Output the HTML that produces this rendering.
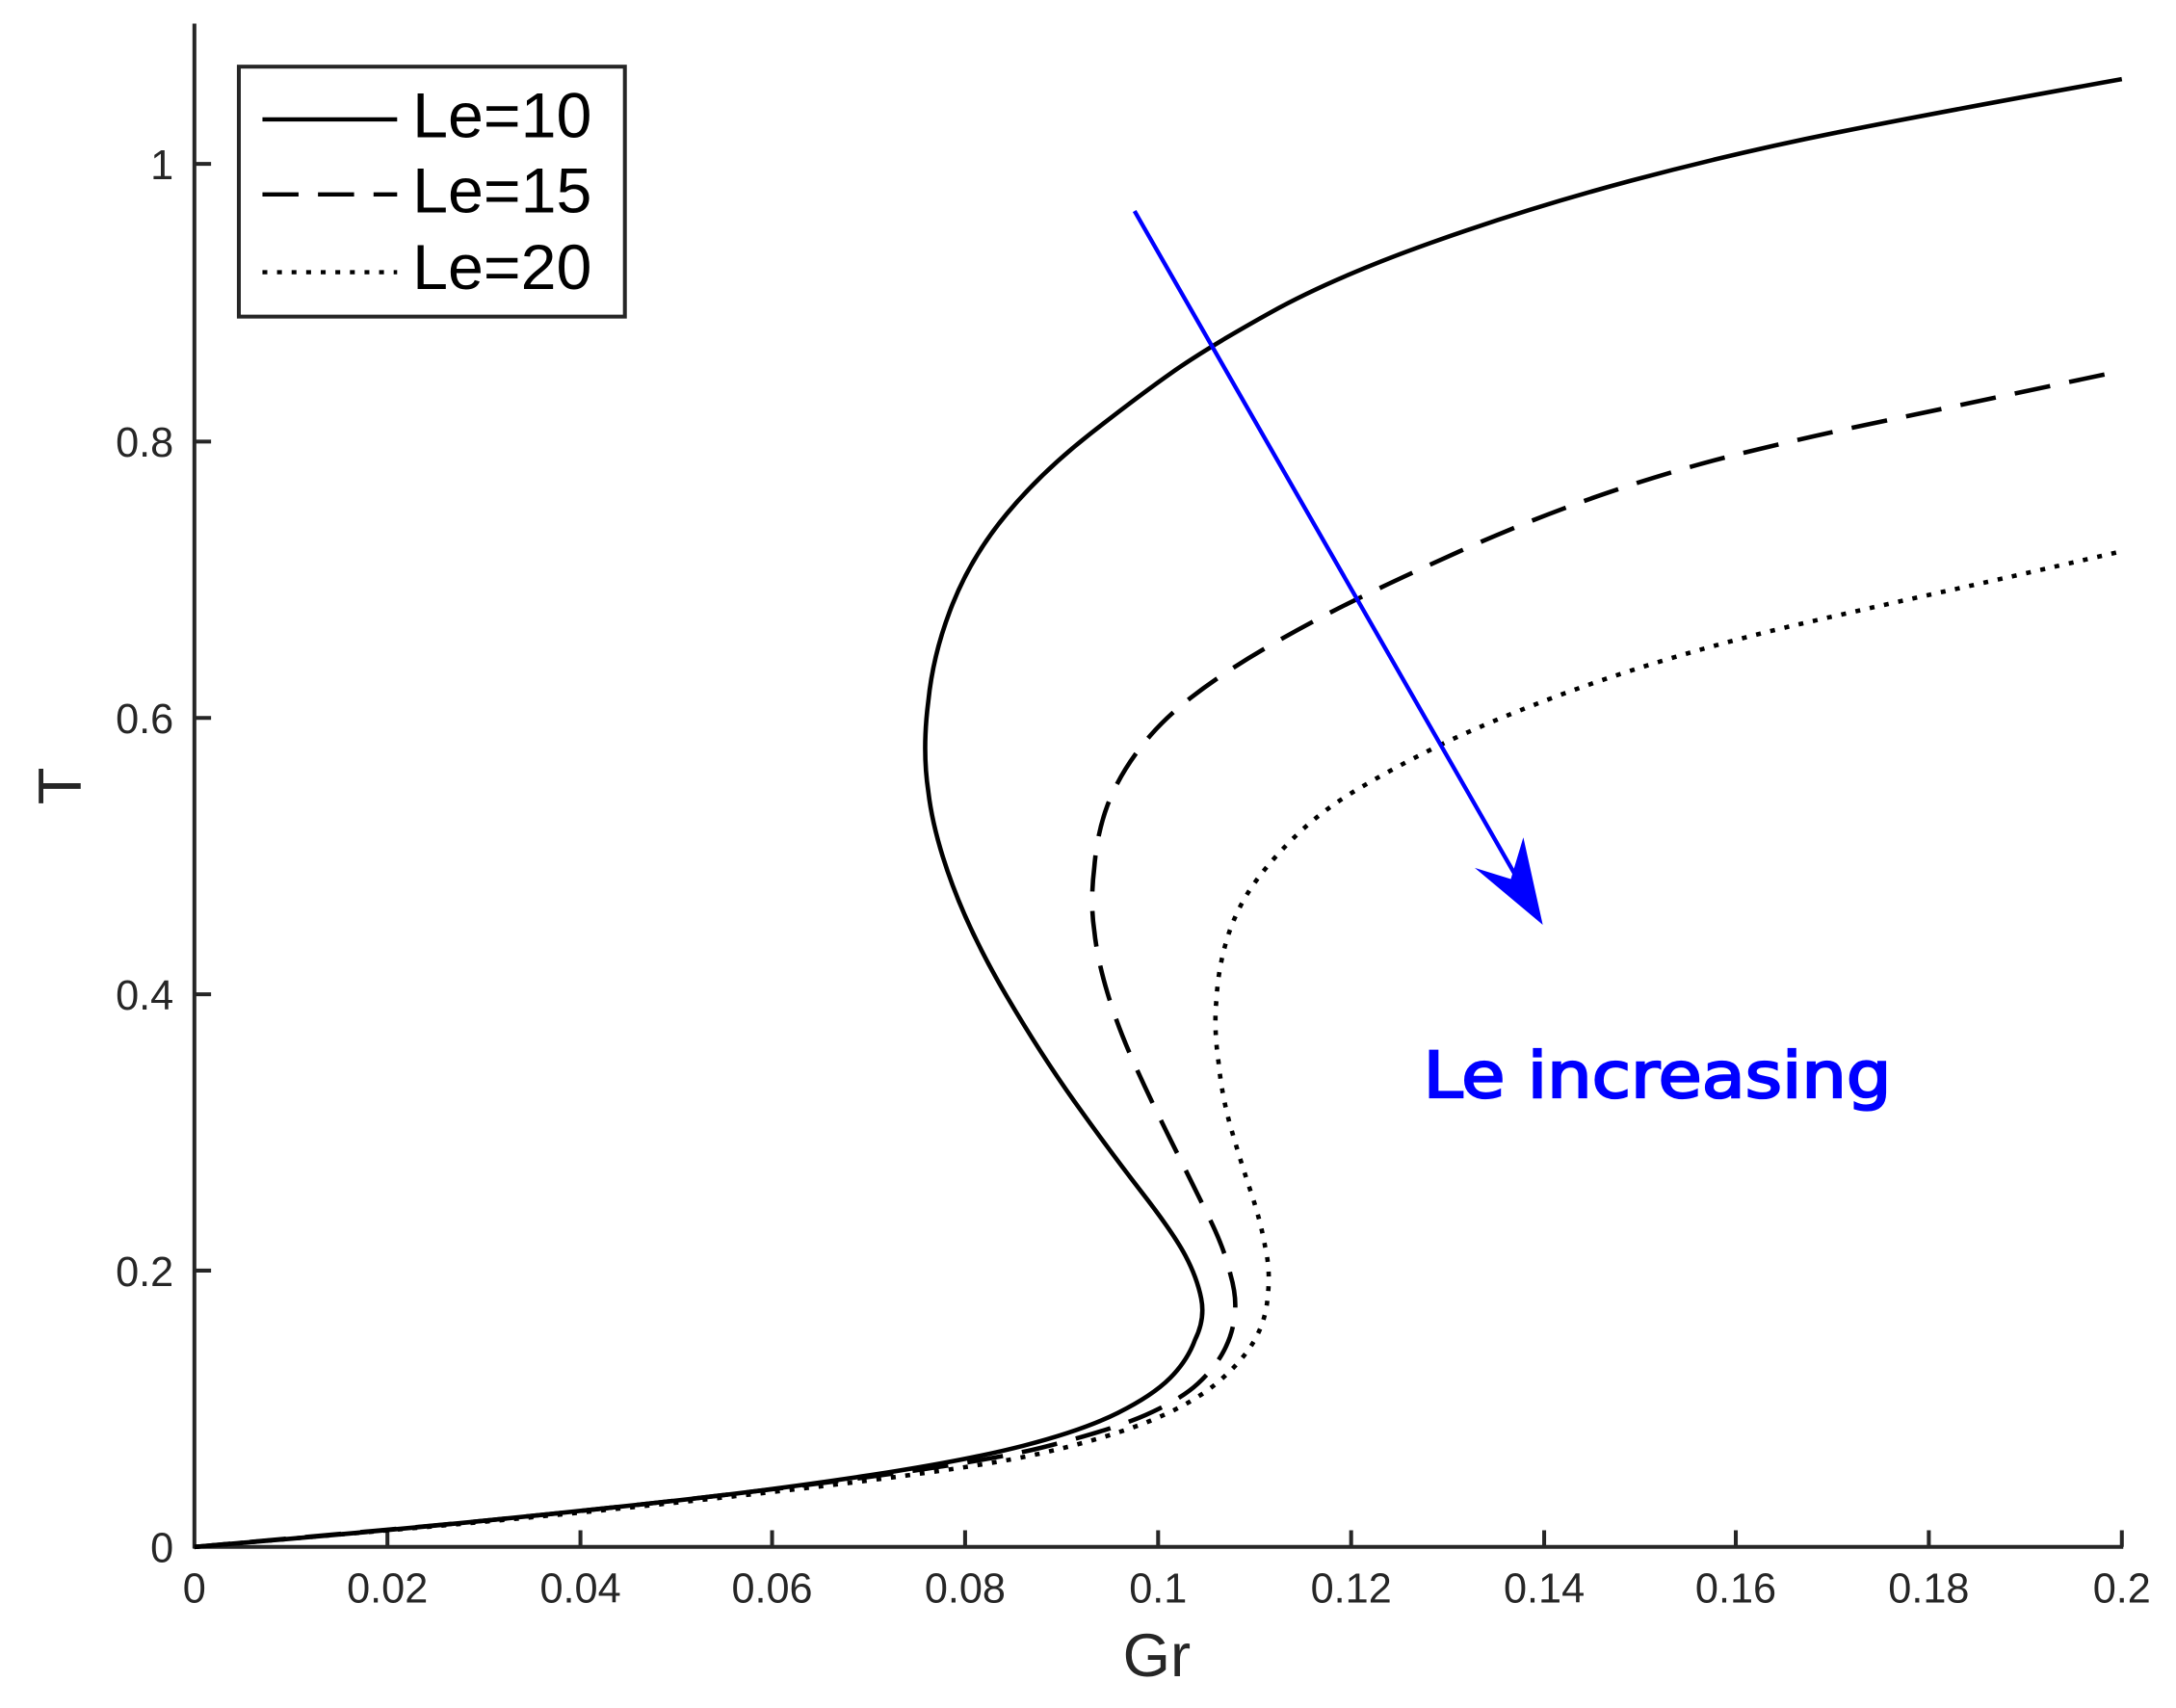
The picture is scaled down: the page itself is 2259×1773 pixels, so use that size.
<!DOCTYPE html>
<html><head><meta charset="utf-8"><style>html,body{margin:0;padding:0;background:#fff}svg{display:block}</style></head>
<body>
<svg width="2259" height="1773" viewBox="0 0 1567 1230" preserveAspectRatio="none" xmlns="http://www.w3.org/2000/svg">
<rect width="1567" height="1230" fill="#fff"/>
<g stroke="#262626" stroke-width="2.8" fill="none">
<line x1="140" y1="17" x2="140" y2="1115"/>
<line x1="139" y1="1114" x2="1529" y2="1114"/>
<path d="M279 1114v-12M418 1114v-12M556 1114v-12M695 1114v-12M834 1114v-12M973 1114v-12M1112 1114v-12M1250 1114v-12M1389 1114v-12M1528 1114v-12"/>
<path d="M140 915h12M140 716h12M140 517h12M140 318h12M140 118h12"/>
</g>
<g font-family="Liberation Sans, sans-serif" font-size="30" fill="#262626" text-anchor="middle">
<text x="140" y="1154">0</text><text x="279" y="1154">0.02</text><text x="418" y="1154">0.04</text><text x="556" y="1154">0.06</text><text x="695" y="1154">0.08</text><text x="834" y="1154">0.1</text><text x="973" y="1154">0.12</text><text x="1112" y="1154">0.14</text><text x="1250" y="1154">0.16</text><text x="1389" y="1154">0.18</text><text x="1528" y="1154">0.2</text>
<g text-anchor="end"><text x="125" y="1125">0</text><text x="125" y="926">0.2</text><text x="125" y="727">0.4</text><text x="125" y="528">0.6</text><text x="125" y="329">0.8</text><text x="125" y="129">1</text></g>
<text x="833" y="1207" font-size="44">Gr</text>
<text transform="translate(58,566) rotate(-90)" font-size="44">T</text>
</g>
<g fill="none" stroke="#000" stroke-width="3.2" stroke-linejoin="round">
<path d="M140 1114 L210 1108 Q280 1102 350 1095 Q420 1088 488 1080.5 Q556 1073 625.5 1062.5 Q695 1052 737.5 1041 Q780 1030 805 1017.5 Q830 1005 842.5 992.5 Q855 980 860.5 965 Q868 950 865 935 Q862 920 853.5 904 Q845 888 822.5 859 Q800 830 775 795 Q750 760 725 717.5 Q700 675 686 637.5 Q672 600 668.5 570 Q664 540 668.5 505 Q672 470 686 435 Q700 400 725 370 Q750 340 785 312.5 Q820 285 845 267.5 Q870 250 915 225 Q960 200 1030 175 Q1100 150 1175 130 Q1250 110 1325 95 Q1400 80 1528 57"/>
<path stroke-dasharray="26 14" d="M140 1114 L280 1101.5 Q420 1089 560 1072 Q700 1055 750 1042.5 Q800 1030 825 1019 Q850 1008 862.5 996.5 Q875 985 881.5 972.5 Q888 960 889 947.5 Q891 935 886 917.5 Q882 900 871 877.5 Q860 855 845 825 Q830 795 817.5 767.5 Q805 740 797.5 715 Q790 690 788 670 Q785 650 788 625 Q790 600 797.5 580 Q805 560 820 540 Q835 520 857.5 502.5 Q880 485 910 467.5 Q940 450 970 435 Q1000 420 1050 397.5 Q1100 375 1150 357.5 Q1200 340 1250 327.5 Q1300 315 1360 302.5 Q1420 290 1528 267"/>
<path stroke-dasharray="3.5 7" d="M140 1114 L280 1102 Q420 1090 560 1074 Q700 1058 750 1046.5 Q800 1035 830 1022.5 Q860 1010 877.5 995 Q895 980 903.5 965 Q912 950 913 932.5 Q915 915 911 897.5 Q908 880 900.5 857.5 Q893 835 886.5 812.5 Q880 790 877.5 765 Q874 740 876 720 Q877 700 882.5 680 Q888 660 899 642.5 Q910 625 930 605 Q950 585 975 570 Q1000 555 1030 540 Q1060 525 1105 507.5 Q1150 490 1200 475 Q1250 460 1300 448.5 Q1350 437 1400 426 Q1450 415 1528 397"/>
</g>
<g stroke="#0000ff" stroke-width="3" fill="#0000ff">
<line x1="817" y1="152" x2="1094" y2="635"/>
<path d="M1111 666 L1062 625 L1088 633 L1097 603 Z" stroke="none"/>
</g>
<text x="1025" y="790" font-family="DejaVu Sans, sans-serif" font-size="46" fill="#0000ff" stroke="#0000ff" stroke-width="1.6" textLength="337" lengthAdjust="spacingAndGlyphs">Le increasing</text>
<rect x="172" y="48" width="278" height="180" fill="#fff" stroke="#262626" stroke-width="2.8"/>
<g stroke="#000" stroke-width="3">
<line x1="189" y1="86" x2="286" y2="86"/>
<line x1="189" y1="140" x2="286" y2="140" stroke-dasharray="26 14"/>
<line x1="189" y1="196" x2="286" y2="196" stroke-dasharray="3.5 7"/>
</g>
<g font-family="Liberation Sans, sans-serif" font-size="46" fill="#000">
<text x="297" y="99">Le=10</text><text x="297" y="153">Le=15</text><text x="297" y="208">Le=20</text>
</g>
</svg>
</body></html>
